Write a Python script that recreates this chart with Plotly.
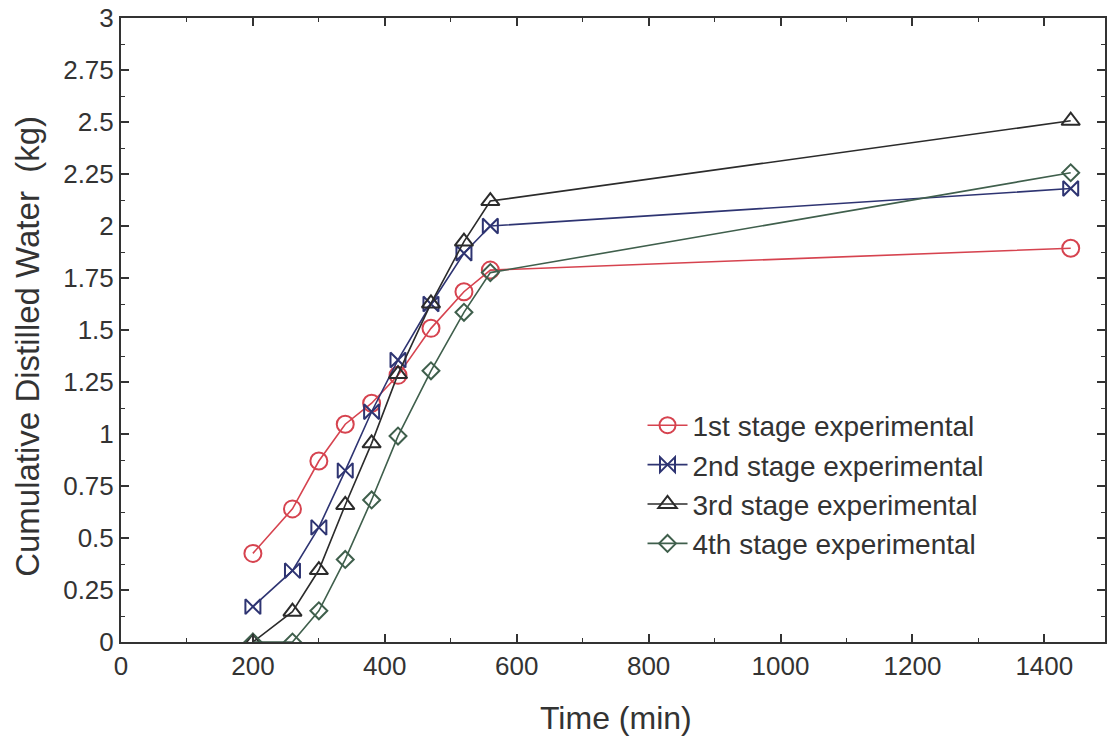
import plotly.graph_objects as go

time_min = [200, 260, 300, 340, 380, 420, 470, 520, 560, 1440]
stage1 = [0.426, 0.64, 0.87, 1.047, 1.148, 1.282, 1.508, 1.684, 1.788, 1.893]
stage2 = [0.17, 0.343, 0.551, 0.824, 1.107, 1.356, 1.625, 1.869, 2.0, 2.18]
stage3 = [0.0, 0.146, 0.346, 0.659, 0.955, 1.288, 1.628, 1.925, 2.12, 2.506]
stage4 = [0.0, 0.0, 0.15, 0.397, 0.683, 0.99, 1.304, 1.585, 1.776, 2.256]

names = ["1st stage experimental", "2nd stage experimental",
         "3rd stage experimental", "4th stage experimental"]
colors = ["#d6434f", "#2e3472", "#2b2b2b", "#3f5f4c"]
symbols = ["circle-open", "bowtie-open", "triangle-up-open", "diamond-open"]
sizes = [17, 15, 16, 13]

y_ticks = [0, 0.25, 0.5, 0.75, 1, 1.25, 1.5, 1.75, 2, 2.25, 2.5, 2.75, 3]
y_labels = ["0", "0.25", "0.5", "0.75", "1", "1.25", "1.5", "1.75", "2",
            "2.25", "2.5", "2.75", "3"]
x_ticks = [0, 200, 400, 600, 800, 1000, 1200, 1400]

x_title = "Time (min)"
y_title = "Cumulative Distilled Water  (kg)"

FONT = "Liberation Sans, Arial, sans-serif"
TXT = "#333333"

fig = go.Figure()
for ys, nm, c, s, sz in zip([stage1, stage2, stage3, stage4], names, colors, symbols, sizes):
    fig.add_trace(go.Scatter(
        x=time_min, y=ys, name=nm, mode="lines+markers",
        line=dict(color=c, width=1.6),
        marker=dict(symbol=s, size=sz, color=c, line=dict(color=c, width=2)),
    ))

axis_common = dict(
    showline=True, linecolor="#333333", linewidth=2, mirror="ticks",
    ticks="inside", ticklen=8, tickwidth=1.6, tickcolor="#333333",
    showgrid=False, zeroline=False, automargin=False,
    ticklabeloverflow="allow",
    tickfont=dict(family=FONT, size=26, color=TXT),
)

fig.update_xaxes(
    range=[0, 1492], tickvals=x_ticks,
    minor=dict(ticks="inside", ticklen=4, tickwidth=1.3, tickcolor="#333333", dtick=100, tick0=0),
    **axis_common,
)
fig.update_yaxes(
    range=[0, 3], tickvals=y_ticks, ticktext=y_labels,
    minor=dict(ticks="inside", ticklen=4, tickwidth=1.3, tickcolor="#333333", dtick=0.125, tick0=0),
    **axis_common,
)

fig.add_annotation(
    text=x_title, xref="paper", yref="paper", x=0.503, y=0,
    xanchor="center", yanchor="middle", yshift=-76, showarrow=False,
    font=dict(family=FONT, size=32, color=TXT),
)
fig.add_annotation(
    text=y_title, xref="paper", yref="paper", x=0, y=0.473,
    xanchor="center", yanchor="middle", xshift=-93, textangle=-90, showarrow=False,
    font=dict(family=FONT, size=33, color=TXT),
)

fig.update_layout(
    width=1107, height=738,
    margin=dict(l=121, r=2, t=18, b=96),
    paper_bgcolor="white", plot_bgcolor="white",
    legend=dict(
        x=0.53, y=0.387, xanchor="left", yanchor="top",
        font=dict(family=FONT, size=28, color=TXT),
        bgcolor="rgba(0,0,0,0)", tracegroupgap=0, itemwidth=40,
    ),
)

fig.write_html("out.html", config={"displayModeBar": False},
               post_script="document.body.style.margin='0';")
